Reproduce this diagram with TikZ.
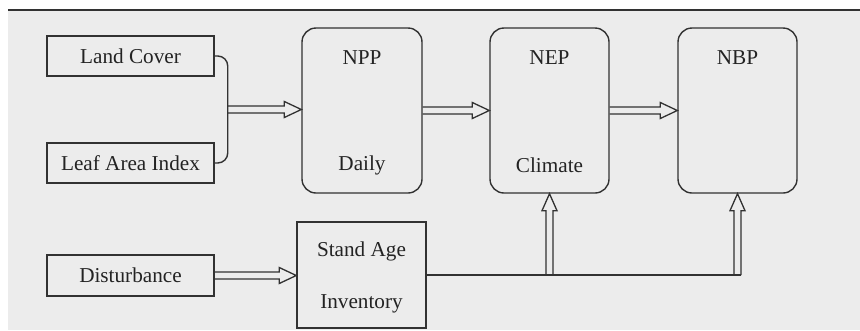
\documentclass[tikz,border=0pt]{standalone}
\usepackage{fontspec}
\setmainfont{Liberation Serif}
\usetikzlibrary{calc}
\definecolor{bgc}{RGB}{236,236,236}
\definecolor{ink}{RGB}{50,50,50}
\definecolor{txt}{RGB}{35,35,35}
\tikzset{
  sqbox/.style={draw=ink, line width=1.5pt, minimum width=167pt, minimum height=40pt, inner sep=0pt, text=txt, font=\fontsize{21.2}{24}\selectfont},
  rbox/.style={draw=ink, line width=1.4pt, rounded corners=14pt, minimum width=119pt, minimum height=165pt, inner sep=0pt},
  lab/.style={text=txt, font=\fontsize{21.2}{24}\selectfont, inner sep=0pt},
  hol/.style={draw=ink, line width=1.3pt, line join=miter},
  conn/.style={draw=ink, line width=1.4pt}
}
\newcommand\harr[2]{\path[hol] let \p1=(#1), \p2=(#2) in
  (\x1,\y1+3.5pt) -- (\x2-17pt,\y1+3.5pt) -- (\x2-17pt,\y1+8pt) -- (\x2,\y1)
  -- (\x2-17pt,\y1-8pt) -- (\x2-17pt,\y1-3.5pt) -- (\x1,\y1-3.5pt);}
\newcommand\varr[2]{\path[hol] let \p1=(#1), \p2=(#2) in
  (\x2-3.5pt,\y1) -- (\x2-3.5pt,\y2-17pt) -- (\x2-7.5pt,\y2-17pt) -- (\x2,\y2)
  -- (\x2+7.5pt,\y2-17pt) -- (\x2+3.5pt,\y2-17pt) -- (\x2+3.5pt,\y1);}
\begin{document}
\begin{tikzpicture}[x=1pt,y=-1pt]
\useasboundingbox (0,0) rectangle (860,330);
\fill[bgc] (8,10) rectangle (860,330);
\draw[ink, line width=1.2pt] (8,10) -- (860,10);

\node[sqbox] (lc) at (130.5,56) {Land Cover};
\node[sqbox] (lai) at (130.5,163) {Leaf Area Index};
\node[sqbox, minimum height=41pt] (dist) at (130.5,275.5) {Disturbance};

\node[rbox, minimum width=120pt] (npp) at (362,110.5) {};
\node[rbox] (nep) at (549.5,110.5) {};
\node[rbox] (nbp) at (737.5,110.5) {};
\node[draw=ink, line width=1.5pt, minimum width=129pt, minimum height=106pt, inner sep=0pt] (sa) at (361.5,275) {};

\node[lab] (npplab) at ($(npp.north)+(0,30)$) {NPP};
\node[lab] (daily) at ($(npp.south)+(0,-28)$) {Daily};
\node[lab] (neplab) at ($(nep.north)+(0,30)$) {NEP};
\node[lab] (climate) at ($(nep.south)+(0,-28)$) {Climate};
\node[lab] (nbplab) at ($(nbp.north)+(0,30)$) {NBP};
\node[lab] (stand) at ($(sa.north)+(0,30)$) {Stand Age};
\node[lab] (inv) at ($(sa.south)+(0,-25)$) {Inventory};

% brace joining the two inputs
\draw[conn, rounded corners=10pt] (lc.east) -- ++(13,0) |- (lai.east);
\coordinate (bm) at ($($(lc.east)!.5!(lai.east)$)+(13,0)$);

\harr{bm}{npp.west}
\harr{npp.east}{nep.west}
\harr{nep.east}{nbp.west}
\harr{dist.east}{sa.west}

\coordinate (j1) at (sa.east -| nep.south);
\coordinate (j2) at (sa.east -| nbp.south);
\draw[conn] (sa.east) -- ([xshift=3.5pt]j2);
\varr{j1}{nep.south}
\varr{j2}{nbp.south}
\end{tikzpicture}
\end{document}
